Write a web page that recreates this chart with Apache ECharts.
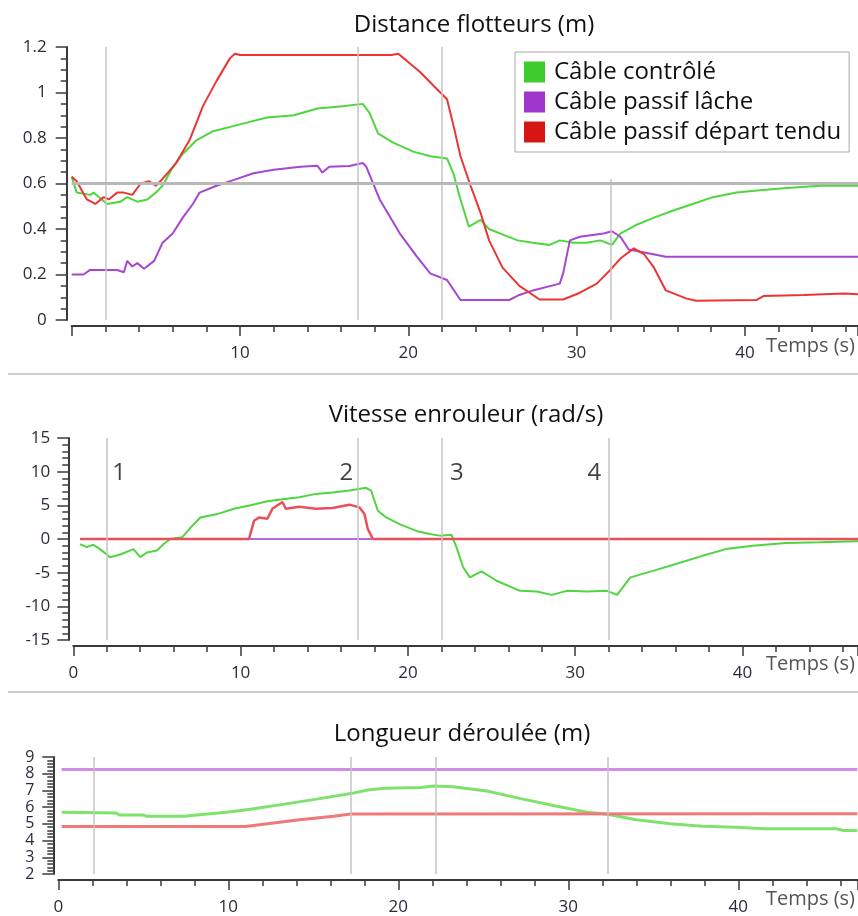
<!DOCTYPE html>
<html>
<head>
<meta charset="utf-8">
<script src="https://cdn.jsdelivr.net/npm/echarts@6/dist/echarts.min.js"></script>
<style>
html, body { margin: 0; padding: 0; background: #fff; }
#chart { width: 858px; height: 916px; }
</style>
</head>
<body>
<div id="chart"></div>
<script>
// noms des séries
const seriesNames = ['Câble contrôlé', 'Câble passif lâche', 'Câble passif départ tendu'];

// Distance flotteurs (m) : [temps (s), valeur]
const distControle = [
  [0, 0.63], [0.3, 0.56], [1.1, 0.55], [1.3, 0.56], [2.1, 0.51], [2.9, 0.52], [3.3, 0.54], [3.9, 0.52],
  [4.5, 0.53], [5.0, 0.56], [5.4, 0.59], [6.0, 0.67], [6.6, 0.73], [7.4, 0.79], [8.4, 0.83], [10.0, 0.86],
  [11.6, 0.89], [13.2, 0.90], [14.6, 0.93], [16.1, 0.94], [17.3, 0.95], [17.7, 0.91], [18.2, 0.82],
  [19.1, 0.78], [20.3, 0.74], [21.3, 0.72], [22.3, 0.71], [22.7, 0.64], [23.1, 0.53], [23.6, 0.41],
  [24.3, 0.44], [24.8, 0.40], [25.8, 0.37], [26.5, 0.35], [27.4, 0.34], [28.4, 0.33], [29.0, 0.35],
  [29.8, 0.34], [30.6, 0.34], [31.4, 0.35], [32.1, 0.33], [32.6, 0.38], [33.6, 0.42], [34.6, 0.45],
  [35.7, 0.48], [36.9, 0.51], [38.1, 0.54], [39.5, 0.56], [40.9, 0.57], [42.5, 0.58], [44.5, 0.59], [46.8, 0.59]
];
const distLache = [
  [0, 0.20], [0.7, 0.20], [1.1, 0.22], [2.7, 0.22], [3.1, 0.21], [3.3, 0.26], [3.6, 0.235], [3.9, 0.25],
  [4.3, 0.225], [4.9, 0.26], [5.4, 0.34], [6.0, 0.38], [6.6, 0.45], [7.2, 0.51], [7.6, 0.56], [8.6, 0.59],
  [9.6, 0.615], [10.8, 0.645], [12.0, 0.66], [13.6, 0.674], [14.6, 0.678], [14.9, 0.648], [15.3, 0.674],
  [16.5, 0.677], [17.3, 0.69], [17.5, 0.674], [18.3, 0.53], [19.5, 0.38], [20.5, 0.28], [21.3, 0.205],
  [22.3, 0.176], [23.1, 0.088], [26.0, 0.088], [26.6, 0.11], [27.4, 0.13], [29.0, 0.16], [29.2, 0.205],
  [29.6, 0.35], [30.2, 0.366], [31.6, 0.38], [32.1, 0.39], [32.6, 0.366], [33.1, 0.31], [33.8, 0.30],
  [35.3, 0.278], [46.8, 0.278]
];
const distTendu = [
  [0, 0.63], [0.3, 0.61], [0.9, 0.53], [1.4, 0.51], [1.9, 0.54], [2.2, 0.53], [2.7, 0.56], [3.1, 0.56],
  [3.6, 0.55], [4.1, 0.60], [4.6, 0.61], [5.0, 0.59], [5.4, 0.62], [6.2, 0.69], [7.0, 0.79], [7.8, 0.94],
  [8.6, 1.05], [9.4, 1.15], [9.7, 1.17], [10.0, 1.165], [19.0, 1.165], [19.4, 1.17], [19.9, 1.14],
  [20.7, 1.09], [21.5, 1.03], [22.3, 0.97], [22.7, 0.85], [23.1, 0.72], [23.7, 0.59], [24.3, 0.47],
  [24.8, 0.35], [25.6, 0.23], [26.6, 0.15], [27.8, 0.09], [29.2, 0.09], [30.2, 0.12], [31.2, 0.16],
  [32.0, 0.22], [32.6, 0.27], [33.4, 0.315], [34.0, 0.29], [34.6, 0.23], [35.3, 0.13], [36.5, 0.095],
  [37.1, 0.085], [40.7, 0.088], [41.1, 0.105], [43.5, 0.11], [45.9, 0.117], [46.8, 0.113]
];
const seuilDistance = 0.6;

// Vitesse enrouleur (rad/s)
const vitControle = [
  [0.4, -0.75], [0.8, -1.2], [1.2, -0.85], [1.6, -1.5], [2.2, -2.7], [2.8, -2.3], [3.6, -1.5], [4.0, -2.7],
  [4.4, -2.0], [5.0, -1.7], [5.4, -0.75], [5.8, 0], [6.5, 0.25], [7.2, 2.2], [7.6, 3.2], [8.6, 3.7],
  [9.6, 4.5], [10.6, 5.0], [11.6, 5.6], [12.5, 5.9], [13.5, 6.2], [14.5, 6.7], [15.5, 6.9], [16.5, 7.2],
  [17.5, 7.6], [17.8, 7.2], [18.2, 4.2], [18.7, 3.2], [19.5, 2.2], [20.5, 1.2], [21.3, 0.75], [21.9, 0.5],
  [22.6, 0.64], [22.9, -1.2], [23.3, -4.2], [23.7, -5.7], [24.4, -4.8], [25.3, -6.2], [26.7, -7.7],
  [27.7, -7.8], [28.6, -8.3], [29.5, -7.7], [30.7, -7.8], [31.9, -7.7], [32.5, -8.3], [33.3, -5.7],
  [34.7, -4.7], [36.3, -3.5], [37.6, -2.5], [39.0, -1.5], [40.6, -1.0], [42.6, -0.6], [44.6, -0.5], [46.9, -0.35]
];
const vitLache = [[0.4, 0], [46.9, 0]];
const vitTendu = [
  [0.4, 0], [10.5, 0], [10.8, 2.7], [11.1, 3.2], [11.6, 3.0], [11.9, 4.5], [12.5, 5.5], [12.7, 4.5],
  [13.5, 4.8], [14.5, 4.5], [15.5, 4.6], [16.5, 5.1], [17.1, 4.7], [17.4, 3.7], [17.6, 1.5], [17.9, 0], [46.9, 0]
];

// Longueur déroulée (m)
const longControle = [
  [0.2, 5.69], [3.4, 5.65], [3.6, 5.53], [5.0, 5.53], [5.2, 5.45], [7.4, 5.45], [8.3, 5.55], [9.9, 5.69],
  [11.3, 5.88], [13.3, 6.18], [15.2, 6.48], [17.2, 6.81], [18.2, 7.03], [19.2, 7.13], [21.3, 7.17],
  [22.1, 7.26], [23.2, 7.22], [25.2, 6.97], [27.2, 6.51], [29.2, 6.08], [31.1, 5.69], [32.3, 5.58],
  [34.0, 5.25], [36.0, 5.0], [37.9, 4.86], [39.9, 4.80], [41.5, 4.70], [45.8, 4.70], [46.2, 4.60], [47.0, 4.60]
];
const longLache = [[0.2, 8.25], [47.0, 8.25]];
const longTendu = [[0.2, 4.84], [11.0, 4.84], [12.3, 5.0], [14.2, 5.25], [16.2, 5.45], [17.2, 5.59], [47.0, 5.6]];

// instants repères (s)
const eventTimes = [2, 17, 22, 32];
const eventTimesLongueur = [2.1, 17.2, 22.2, 32.3];
const eventLabels = ['1', '2', '3', '4'];
const eventLabelLevel = 9.8;
const lastEventTopDistance = 0.62;

const FONT = "'Open Sans', 'Noto Sans', sans-serif";
const legendColors = ['#3dcc2c', '#9f37cc', '#d61515'];
const lineColors1 = ['#4fd63f', '#a646d3', '#eb3535'];
const lineColors2 = ['#4fd63f', '#b56ae0', '#e9505c'];
const lineColors3 = ['#7ee26c', '#d08ce6', '#f07878'];
const eventLabelSide = [['right', 5], ['left', 4], ['right', 8], ['left', 7]];

const chart = echarts.init(document.getElementById('chart'));

function lineSerie(i, gridIdx, data, colors, width, z) {
  return {
    type: 'line',
    name: seriesNames[i],
    xAxisIndex: gridIdx,
    yAxisIndex: gridIdx,
    data: data,
    symbol: 'none',
    showSymbol: false,
    lineStyle: { color: colors[i], width: width },
    itemStyle: { color: legendColors[i] },
    z: z,
    silent: true
  };
}

function xAxisDef(gridIdx, max, hideZero, namePad) {
  return {
    type: 'value',
    gridIndex: gridIdx,
    min: 0,
    max: max,
    interval: 10,
    offset: 6,
    name: 'Temps (s)',
    nameLocation: 'end',
    nameGap: -3,
    nameMoveOverlap: false,
    nameTextStyle: { fontFamily: FONT, fontSize: 20, color: '#555', align: 'right', verticalAlign: 'top', padding: [namePad, 0, 0, 0] },
    axisLine: { show: true, onZero: false, lineStyle: { color: '#3a3a3a', width: 2 } },
    axisTick: { show: true, length: 10, lineStyle: { color: '#3a3a3a', width: 1.5 } },
    minorTick: { show: true, splitNumber: 5, length: 6, lineStyle: { color: '#3a3a3a', width: 1.5 } },
    splitLine: { show: false },
    axisLabel: {
      margin: 19, fontFamily: FONT, fontSize: 17, color: '#2b2b3a', showMaxLabel: false,
      formatter: v => (v % 10 === 0 && !(hideZero && v === 0)) ? String(v) : ''
    }
  };
}

function yAxisDef(gridIdx, min, max, interval, minorSplit, margin, fontSize) {
  return {
    type: 'value',
    gridIndex: gridIdx,
    min: min,
    max: max,
    interval: interval,
    offset: 5,
    axisLine: { show: true, onZero: false, lineStyle: { color: '#3a3a3a', width: 2 } },
    axisTick: { show: true, length: 11, lineStyle: { color: '#3a3a3a', width: 1.5 } },
    minorTick: { show: true, splitNumber: minorSplit, length: 6, lineStyle: { color: '#3a3a3a', width: 1.5 } },
    splitLine: { show: false },
    axisLabel: { margin: margin, fontFamily: FONT, fontSize: fontSize, color: '#2b2b3a' }
  };
}

const vLineStyle = { color: '#c4c4c4', width: 1.5, type: 'solid' };

function eventLines(times, top, bottom, lastTop) {
  return times.map((t, k) => [
    { coord: [t, (k === times.length - 1 && lastTop !== undefined) ? lastTop : top] },
    { coord: [t, bottom] }
  ]);
}

const titleStyle = { fontFamily: FONT, fontSize: 24, fontWeight: 'normal', color: '#111' };

const option = {
  animation: false,
  backgroundColor: '#fff',
  title: [
    { text: 'Distance flotteurs (m)', left: 474, top: 13, textAlign: 'center', padding: 0, textStyle: titleStyle },
    { text: 'Vitesse enrouleur (rad/s)', left: 466, top: 403, textAlign: 'center', padding: 0, textStyle: titleStyle },
    { text: 'Longueur déroulée (m)', left: 462, top: 722, textAlign: 'center', padding: 0, textStyle: titleStyle }
  ],
  legend: {
    data: seriesNames,
    orient: 'vertical',
    left: 515,
    top: 52,
    padding: [8, 8, 8, 9],
    itemGap: 6,
    itemWidth: 21,
    itemHeight: 21,
    icon: 'rect',
    selectedMode: false,
    borderColor: '#a8a8a8',
    borderWidth: 1,
    backgroundColor: '#fff',
    textStyle: { fontFamily: FONT, fontSize: 24, lineHeight: 21, color: '#111', padding: [0, 0, 0, 4] }
  },
  grid: [
    { left: 71.7, top: 47, right: 0, height: 273 },
    { left: 73.3, top: 438, right: 0, height: 202 },
    { left: 58.3, top: 757, right: 0, height: 119 }
  ],
  xAxis: [
    xAxisDef(0, 46.72, true, 10),
    xAxisDef(1, 46.9, false, 8),
    xAxisDef(2, 47.04, false, 9)
  ],
  yAxis: [
    yAxisDef(0, 0, 1.2, 0.2, 4, 20, 17),
    yAxisDef(1, -15, 15, 5, 5, 18, 17),
    yAxisDef(2, 2, 9, 1, 5, 19, 16)
  ],
  graphic: [
    { type: 'line', shape: { x1: 8, y1: 374, x2: 858, y2: 374 }, style: { stroke: '#cfcfcf', lineWidth: 2 } },
    { type: 'line', shape: { x1: 8, y1: 692, x2: 858, y2: 692 }, style: { stroke: '#cfcfcf', lineWidth: 2 } }
  ],
  series: [
    // graphe 1
    lineSerie(0, 0, distControle, lineColors1, 2, 3),
    lineSerie(1, 0, distLache, lineColors1, 2, 3),
    lineSerie(2, 0, distTendu, lineColors1, 2, 3),
    {
      type: 'line', xAxisIndex: 0, yAxisIndex: 0, data: [], z: 5, silent: true,
      markLine: {
        silent: true, symbol: 'none', label: { show: false }, lineStyle: vLineStyle,
        data: eventLines(eventTimes, 1.2, 0, lastEventTopDistance).concat([
          { yAxis: seuilDistance, lineStyle: { color: '#b8b8b8', width: 3 } }
        ])
      }
    },
    // graphe 2
    lineSerie(1, 1, vitLache, lineColors2, 2, 2),
    lineSerie(0, 1, vitControle, lineColors2, 2, 3),
    lineSerie(2, 1, vitTendu, lineColors2, 2.5, 4),
    {
      type: 'scatter', xAxisIndex: 1, yAxisIndex: 1, z: 6, silent: true,
      symbolSize: 1, itemStyle: { color: 'rgba(0,0,0,0)' },
      data: eventTimes.map((t, k) => ({
        value: [t, eventLabelLevel],
        label: { position: eventLabelSide[k][0], distance: eventLabelSide[k][1] }
      })),
      label: {
        show: true, fontFamily: FONT, fontSize: 24, color: '#111',
        formatter: p => eventLabels[p.dataIndex]
      },
      markLine: {
        silent: true, symbol: 'none', label: { show: false }, lineStyle: vLineStyle,
        data: eventLines(eventTimes, 15, -15)
      }
    },
    // graphe 3
    lineSerie(1, 2, longLache, lineColors3, 3, 3),
    lineSerie(0, 2, longControle, lineColors3, 3, 3),
    lineSerie(2, 2, longTendu, lineColors3, 3, 3),
    {
      type: 'line', xAxisIndex: 2, yAxisIndex: 2, data: [], z: 5, silent: true,
      markLine: {
        silent: true, symbol: 'none', label: { show: false }, lineStyle: vLineStyle,
        data: eventLines(eventTimesLongueur, 9, 2)
      }
    }
  ]
};

chart.setOption(option);
</script>
</body>
</html>
